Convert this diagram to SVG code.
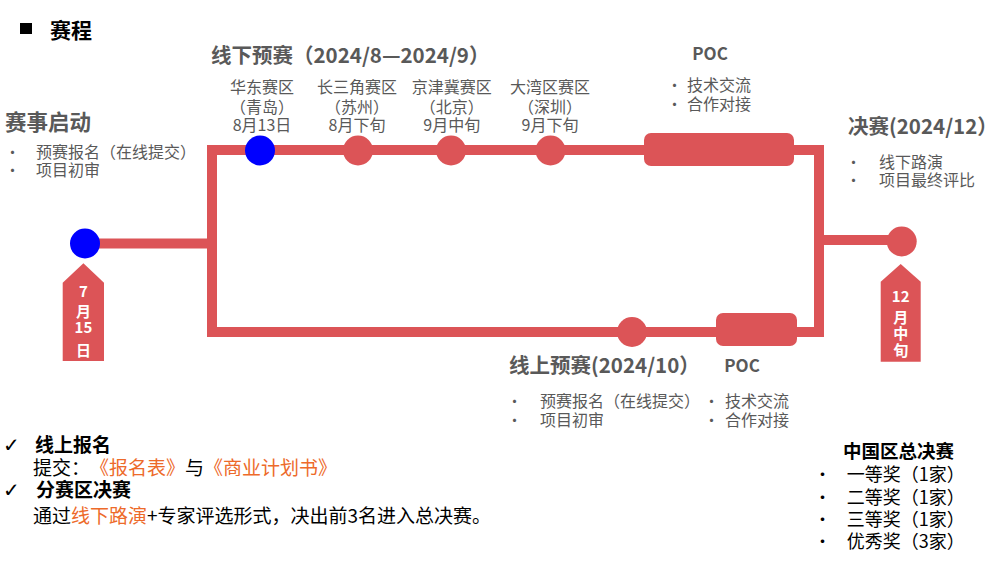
<svg xmlns="http://www.w3.org/2000/svg" width="1000" height="566" viewBox="0 0 1000 566">
<style>
text{font-family:"Noto Sans CJK SC","Noto Sans",sans-serif;text-spacing-trim:space-all}
.g{fill:#595959}
.k{fill:#000}
.b{font-weight:bold}
.o{fill:#ED6A2A}
.red{fill:#DC5457}
.line{stroke:#DC5457;stroke-width:10;fill:none}
.badge{fill:#fff;font-weight:bold;font-size:15px;text-anchor:middle}
.lab{font-size:16px;text-anchor:middle;fill:#595959}
.chk{font-family:"DejaVu Sans",sans-serif;font-weight:bold;font-size:20px;fill:#000}
</style>
<rect width="1000" height="566" fill="#fff"/>
<g id="title">
<rect x="20" y="23" width="12" height="11" fill="#000"/>
<text x="50" y="38" class="k b" font-size="21">赛程</text>
</g>
<g id="connectors">
<rect x="212" y="150" width="607" height="182" class="line"/>
<line x1="85" y1="243.5" x2="212" y2="243.5" class="line" stroke-width="11"/>
<line x1="819" y1="240" x2="902" y2="240" class="line" stroke-width="11"/>
</g>
<g id="start">
<circle cx="85" cy="243.5" r="15" fill="#0000FF"/>
<polygon points="62.7,282.7 83.4,263.3 104,282.7 104,361 62.7,361" class="red"/>
<text class="badge"><tspan x="83.4" y="296.5">7</tspan><tspan x="83.4" y="317">月</tspan><tspan x="83.4" y="333">15</tspan><tspan x="83.4" y="355.5">日</tspan></text>
<text x="5" y="129.5" class="g b" font-size="21.5">赛事启动</text>
<text x="5" y="157.5" class="g" font-size="15">•</text>
<text x="36" y="157.5" class="g" font-size="16">预赛报名（在线提交）</text>
<text x="5" y="176" class="g" font-size="15">•</text>
<text x="36" y="176" class="g" font-size="16">项目初审</text>
</g>
<g id="offline">
<text x="211" y="62.5" class="g b" font-size="20.5">线下预赛（2024/8—2024/9）</text>
</g>
<g id="huadong">
<circle cx="260" cy="150.5" r="15" fill="#0000FF"/>
<text class="lab"><tspan x="262" y="92.5">华东赛区</tspan><tspan x="262" y="112.5">（青岛）</tspan><tspan x="262" y="131">8月13日</tspan></text>
</g>
<g id="changsanjiao">
<circle cx="358" cy="150.5" r="15" class="red"/>
<text class="lab"><tspan x="357" y="92.5">长三角赛区</tspan><tspan x="357" y="112.5">（苏州）</tspan><tspan x="357" y="131">8月下旬</tspan></text>
</g>
<g id="jingjinji">
<circle cx="451" cy="150.5" r="15" class="red"/>
<text class="lab"><tspan x="451.7" y="92.5">京津冀赛区</tspan><tspan x="451.7" y="112.5">（北京）</tspan><tspan x="451.7" y="131">9月中旬</tspan></text>
</g>
<g id="dawanqu">
<circle cx="550.5" cy="150.5" r="15" class="red"/>
<text class="lab"><tspan x="550" y="92.5">大湾区赛区</tspan><tspan x="550" y="112.5">（深圳）</tspan><tspan x="550" y="131">9月下旬</tspan></text>
</g>
<g id="poc-top">
<rect x="644" y="133" width="150" height="33" rx="7" class="red"/>
<text x="710" y="60" class="g b" font-size="17" text-anchor="middle">POC</text>
<text x="667" y="91" class="g" font-size="15">•</text>
<text x="687" y="91" class="g" font-size="16">技术交流</text>
<text x="667" y="110" class="g" font-size="15">•</text>
<text x="687" y="110" class="g" font-size="16">合作对接</text>
</g>
<g id="online">
<circle cx="632" cy="332" r="15" class="red"/>
<text x="509" y="373" class="g b" font-size="20.5">线上预赛(2024/10）</text>
<text x="507" y="406.5" class="g" font-size="15">•</text>
<text x="540" y="406.5" class="g" font-size="16">预赛报名（在线提交）</text>
<text x="507" y="426" class="g" font-size="15">•</text>
<text x="540" y="426" class="g" font-size="16">项目初审</text>
</g>
<g id="poc-bottom">
<rect x="716" y="313" width="81" height="33" rx="7" class="red"/>
<text x="742" y="372" class="g b" font-size="17" text-anchor="middle">POC</text>
<text x="704" y="406.5" class="g" font-size="15">•</text>
<text x="725" y="406.5" class="g" font-size="16">技术交流</text>
<text x="704" y="426" class="g" font-size="15">•</text>
<text x="725" y="426" class="g" font-size="16">合作对接</text>
</g>
<g id="final">
<circle cx="901.7" cy="241.5" r="15" class="red"/>
<polygon points="880.7,281.7 900.7,264 920.7,281.7 920.7,361.7 880.7,361.7" class="red"/>
<text class="badge"><tspan x="900.7" y="302">12</tspan><tspan x="900.7" y="322.5">月</tspan><tspan x="900.7" y="338.5">中</tspan><tspan x="900.7" y="355.5">旬</tspan></text>
<text x="848" y="134" class="g b" font-size="20.5">决赛(2024/12）</text>
<text x="846" y="167.5" class="g" font-size="15">•</text>
<text x="879" y="167.5" class="g" font-size="16">线下路演</text>
<text x="846" y="186" class="g" font-size="15">•</text>
<text x="879" y="186" class="g" font-size="16">项目最终评比</text>
</g>
<g id="notes">
<text x="3" y="452" class="chk">✓</text>
<text x="35" y="451.5" class="k b" font-size="19">线上报名</text>
<text x="33" y="474.5" class="k" font-size="19">提交：<tspan class="o">《报名表》</tspan>与<tspan class="o">《商业计划书》</tspan></text>
<text x="3" y="497" class="chk">✓</text>
<text x="36" y="496.5" class="k b" font-size="19">分赛区决赛</text>
<text x="33" y="523" class="k" font-size="19">通过<tspan class="o">线下路演</tspan>+专家评选形式，决出前3名进入总决赛。</text>
</g>
<g id="awards">
<text x="843" y="458" class="k b" font-size="18.5">中国区总决赛</text>
<text x="814" y="481" class="k" font-size="17">•</text>
<text x="846.7" y="481" class="k" font-size="18">一等奖（1家）</text>
<text x="814" y="504" class="k" font-size="17">•</text>
<text x="846.7" y="504" class="k" font-size="18">二等奖（1家）</text>
<text x="814" y="526" class="k" font-size="17">•</text>
<text x="846.7" y="526" class="k" font-size="18">三等奖（1家）</text>
<text x="814" y="548" class="k" font-size="17">•</text>
<text x="846.7" y="548" class="k" font-size="18">优秀奖（3家）</text>
</g>
</svg>
